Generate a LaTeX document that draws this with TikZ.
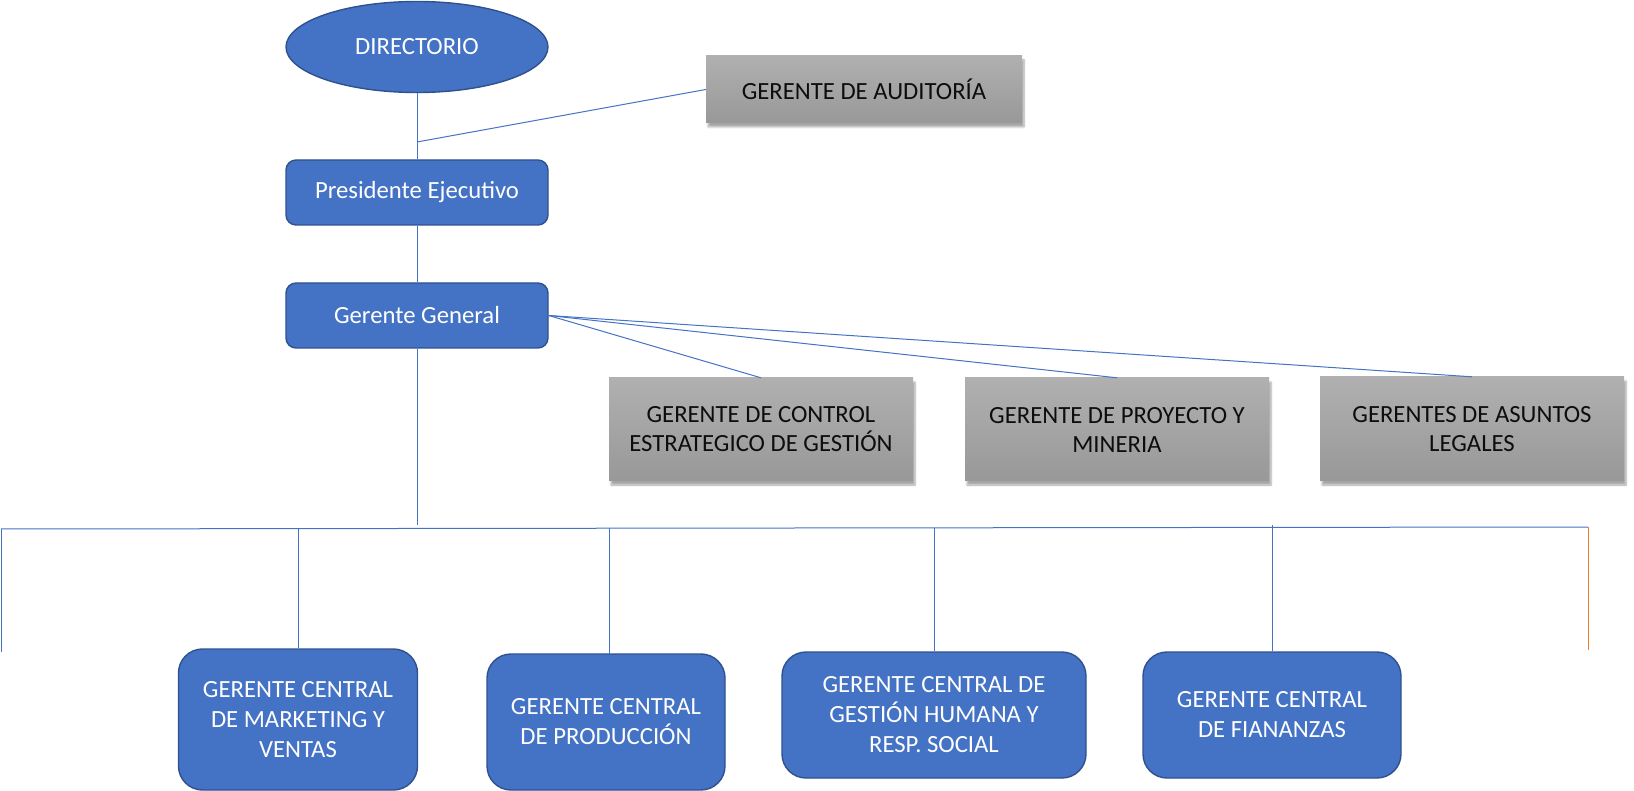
\documentclass[tikz,border=0pt]{standalone}
\usepackage{fontspec}
\setmainfont{Carlito}
\usetikzlibrary{shapes.geometric,shadows.blur}
\definecolor{azul}{HTML}{4472C4}
\definecolor{azulborde}{HTML}{2F528F}
\definecolor{naranja}{HTML}{ED7D31}
\tikzset{
  cargo/.style={draw=azulborde, line width=1.4pt, fill=azul, text=white,
    align=center, font=\fontsize{24.7}{30}\selectfont},
  elipse/.style={cargo, ellipse, minimum width=262pt, minimum height=91pt},
  jefe/.style={cargo, rectangle, rounded corners=10pt, minimum width=262pt, minimum height=65pt},
  central/.style={cargo, rectangle, rounded corners=24pt},
  staff/.style={rectangle, top color=gray!62, bottom color=gray!85!black!70, text=black!95,
    align=center, font=\fontsize{24.7}{29}\selectfont,
    blur shadow={shadow xshift=2pt, shadow yshift=-4pt, shadow blur steps=6, shadow opacity=35}},
  enlace/.style={draw=azul, line width=1pt}
}
\begin{document}
\begin{tikzpicture}[x=1pt,y=-1pt]
      \useasboundingbox (0,0) rectangle (1634,791);
      \draw
        (417,47) node[elipse] (dir){DIRECTORIO}
        (417,192.5) node[jefe] (pres){Presidente Ejecutivo}
        (417,315.5) node[jefe] (gg){Gerente General}
        (864,89.5) node[staff, minimum width=316pt, minimum height=67pt] (aud){GERENTE DE AUDITORÍA}
        (761,429.5) node[staff, minimum width=304pt, minimum height=103pt] (ctrl){GERENTE DE CONTROL\\ESTRATEGICO DE GESTIÓN}
        (1117,429.5) node[staff, minimum width=304pt, minimum height=103pt] (proy){GERENTE DE PROYECTO Y\\MINERIA}
        (1472,429) node[staff, minimum width=304pt, minimum height=104pt] (leg){GERENTES DE ASUNTOS\\LEGALES}
        (298,719.5) node[central, minimum width=239pt, minimum height=141pt] (mkt){GERENTE CENTRAL\\DE MARKETING Y\\VENTAS}
        (606,722) node[central, minimum width=238pt, minimum height=136pt] (prod){GERENTE CENTRAL\\DE PRODUCCIÓN}
        (934,715) node[central, minimum width=304pt, minimum height=126pt] (gh){GERENTE CENTRAL DE\\GESTIÓN HUMANA Y\\RESP. SOCIAL}
        (1272,715) node[central, minimum width=258pt, minimum height=126pt] (fin){GERENTE CENTRAL\\DE FIANANZAS};
      \coordinate (j1) at (417,142);
      \coordinate (b0) at (417,525);
      \coordinate (bl) at (1,529);
      \coordinate (br) at (1588,527);
      \coordinate (bl2) at (1,652);
      \coordinate (br2) at (1588,650);
      \begin{scope}[enlace]
        \draw (dir) to (pres);
        \draw (aud.west) to (j1);
        \draw (pres) to (gg);
        \draw (gg.east) to (ctrl.north);
        \draw (gg.east) to (proy.north);
        \draw (gg.east) to (leg.north);
        \draw (gg) to (b0);
        \draw (bl) to (br);
        \draw (bl) to (bl2);
        \draw[naranja] (br) to (br2);
        \draw (298,528) to (mkt.north);
        \draw (609,528) to (609,654);
        \draw (934,528) to (gh.north);
        \draw (1272,525) to (fin.north);
      \end{scope}
    \end{tikzpicture}
\end{document}
